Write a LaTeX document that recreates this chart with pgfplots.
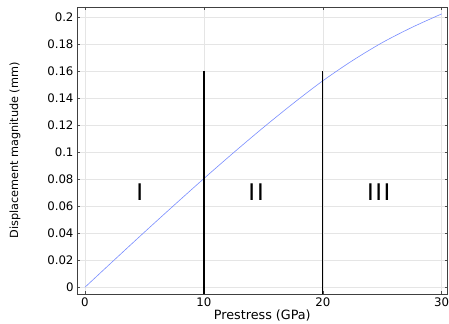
\documentclass[border=0pt]{standalone}
\usepackage{pgfplots}
\pgfplotsset{compat=1.18}
\usepackage{fontspec}
\setmainfont{DejaVu Sans}
\begin{document}
\begin{tikzpicture}
\begin{axis}[
  scale only axis,
  width=370.6bp, height=287bp,
  xmin=-0.67, xmax=30.5,
  ymin=-0.005, ymax=0.2076,
  xtick={0,10,20,30},
  ytick={0,0.02,0.04,0.06,0.08,0.1,0.12,0.14,0.16,0.18,0.2},
  yticklabels={0,0.02,0.04,0.06,0.08,0.1,0.12,0.14,0.16,0.18,0.2},
  scaled y ticks=false,
  tick align=inside,
  tick pos=both,
  major tick length=3bp,
  tick style={color=black!70, line width=0.4pt},
  grid=major,
  grid style={color=black!10, line width=0.5pt},
  axis line style={color=black!75, line width=0.6pt},
  /pgf/number format/assume math mode=true,
  ticklabel style={font=\fontsize{11.8}{13}\selectfont},
  xlabel={Prestress (GPa)},
  ylabel={Displacement magnitude (mm)},
  every axis x label/.style={at={(axis description cs:0.5,0)}, anchor=base, yshift=-25.3bp, font=\fontsize{12.8}{14}\selectfont},
  every axis y label/.style={at={(axis description cs:-0.167,0.5)}, rotate=90, anchor=center, font=\fontsize{11.3}{13}\selectfont},
  clip=true,
]
\addplot[color={rgb,255:red,120;green,140;blue,255}, line width=0.6pt, smooth] coordinates {
(0,0) (2.5,0.0205) (5,0.0408) (7.5,0.0608) (10,0.0805) (12.5,0.0997) (15,0.1183)
(17.5,0.1361) (20,0.1529) (22.5,0.1679) (25,0.1812) (27.5,0.1925) (30,0.2025)
};
\addplot[black, line width=1.4pt] coordinates {(10,-0.005) (10,0.16)};
\addplot[black, line width=1.4pt] coordinates {(20,-0.005) (20,0.16)};
\node[font=\fontsize{23}{24}\selectfont] at (axis cs:4.6,0.0702) {I};
\node[font=\fontsize{23}{24}\selectfont] at (axis cs:14.4,0.0702) {I\hspace{2bp}I};
\node[font=\fontsize{23}{24}\selectfont] at (axis cs:24.7,0.0702) {I\hspace{1.5bp}I\hspace{1.5bp}I};
\end{axis}
\pgfresetboundingbox
\path[use as bounding box] ([shift={(-77bp,-30bp)}]current axis.south west) rectangle ([shift={(1.4bp,7bp)}]current axis.north east);
\end{tikzpicture}
\end{document}
